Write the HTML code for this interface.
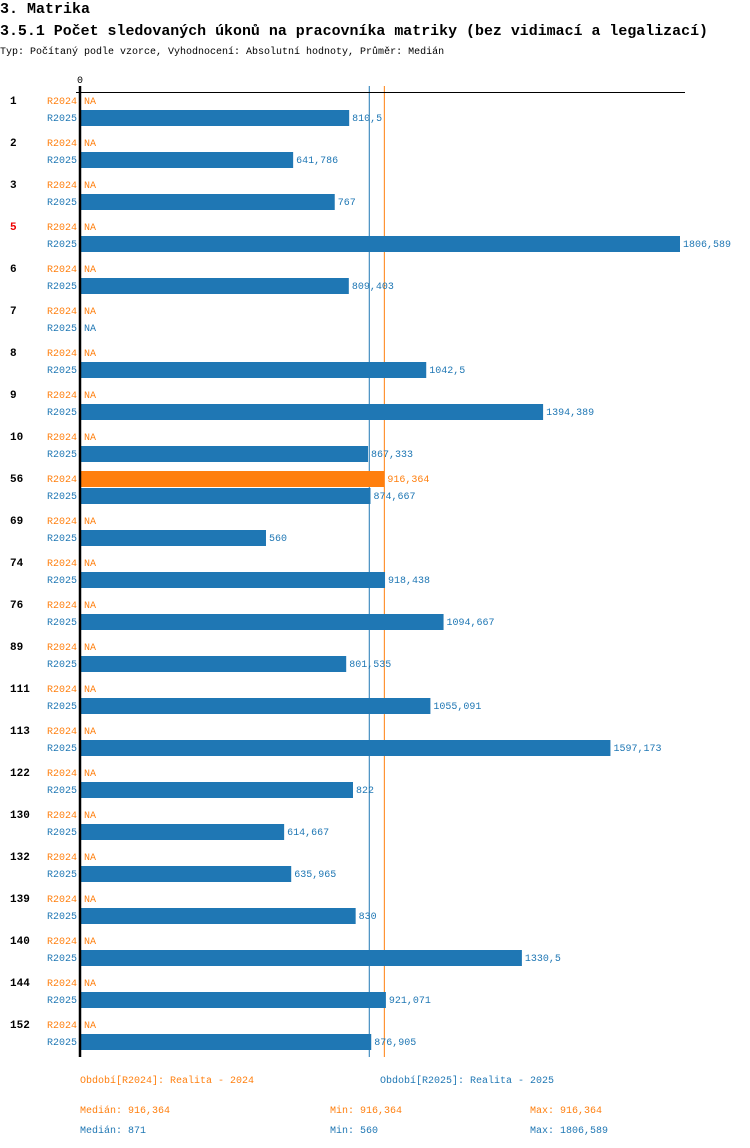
<!DOCTYPE html>
<html><head><meta charset="utf-8">
<style>
body{margin:0;background:#fff;width:750px;height:1148px;overflow:hidden;font-family:"Liberation Mono",monospace;}
svg{display:block}
</style></head>
<body>
<svg id="chart" width="750" height="1148" xmlns="http://www.w3.org/2000/svg" font-family="Liberation Mono, monospace">
<text x="0" y="13" font-size="15" font-weight="bold">3. Matrika</text>
<text x="0" y="35" font-size="15" font-weight="bold" textLength="708" lengthAdjust="spacingAndGlyphs">3.5.1 Počet sledovaných úkonů na pracovníka matriky (bez vidimací a legalizací)</text>
<text x="0" y="54" font-size="10">Typ: Počítaný podle vzorce, Vyhodnocení: Absolutní hodnoty, Průměr: Medián</text>
<g id="lines"></g>
<g id="plot"></g>
</svg>
<script>
const categories=["1","2","3","5","6","7","8","9","10","56","69","74","76","89","111","113","122","130","132","139","140","144","152"];
const values2024=[null,null,null,null,null,null,null,null,null,916.364,null,null,null,null,null,null,null,null,null,null,null,null,null];
const values2025=[810.5,641.786,767,1806.589,809.403,null,1042.5,1394.389,867.333,874.667,560,918.438,1094.667,801.535,1055.091,1597.173,822,614.667,635.965,830,1330.5,921.071,876.905];
const highlighted=["5"];
const median2024=916.364, median2025=871;
const stats2024=["Medián: 916,364","Min: 916,364","Max: 916,364"];
const stats2025=["Medián: 871","Min: 560","Max: 1806,589"];
const maxVal=1806.589;
const C24="#ff7f0e",C25="#1f77b4";
const NS="http://www.w3.org/2000/svg";
const g=document.getElementById('plot');
const gl=document.getElementById('lines');
const x0=80, xw=600;
const xs=v=>x0+v/maxVal*xw;
const top0=101, pitch=42;
function el(t,a,txt,p){const e=document.createElementNS(NS,t);for(const k in a)e.setAttribute(k,a[k]);if(txt!=null)e.textContent=txt;(p||g).appendChild(e);return e;}
const fmt=v=>String(v).replace('.',',');
let e;
e=el('text',{x:80,y:83,'font-size':10,'text-anchor':'middle'},'0');


e=el('line',{x1:76,x2:685,y1:92.5,y2:92.5,stroke:'#000','stroke-width':1});


categories.forEach((c,i)=>{
  const y=top0+i*pitch;
  e=el('text',{x:10,y:y+3,'font-size':11,'font-weight':'bold',fill:highlighted.includes(c)?'#e00':'#000'},c);
  
  
  [[values2024[i],'R2024',C24,y],[values2025[i],'R2025',C25,y+17]].forEach(([v,s,col,yy])=>{
    e=el('text',{x:77,y:yy+3,'font-size':10,'text-anchor':'end',fill:col},s);
    
    
    if(v==null){
      e=el('text',{x:84,y:yy+3,'font-size':10,fill:col},'NA');
      
      
    }else{
      e=el('rect',{x:x0,y:yy-8,width:xs(v)-x0,height:16,fill:col});
      
      
      e=el('text',{x:xs(v)+3,y:yy+3,'font-size':10,fill:col},fmt(v));
      
      
    }
  });
});
const yb=top0+(categories.length-1)*pitch+17+8+7;
e=el('line',{x1:xs(median2025),x2:xs(median2025),y1:86,y2:yb,stroke:C25,'stroke-width':1},null,gl);


e=el('line',{x1:xs(median2024),x2:xs(median2024),y1:86,y2:yb,stroke:C24,'stroke-width':1},null,gl);


e=el('line',{x1:80,x2:80,y1:86,y2:yb,stroke:'#000','stroke-width':2.5});


e=el('text',{x:80,y:1083,'font-size':10,fill:C24},'Období[R2024]: Realita - 2024');


e=el('text',{x:380,y:1083,'font-size':10,fill:C25},'Období[R2025]: Realita - 2025');


const sx=[80,330,530];
stats2024.forEach((s,i)=>{e=el('text',{x:sx[i],y:1113,'font-size':10,fill:C24},s);

});
stats2025.forEach((s,i)=>{e=el('text',{x:sx[i],y:1133,'font-size':10,fill:C25},s);

});
</script>
</body></html>
